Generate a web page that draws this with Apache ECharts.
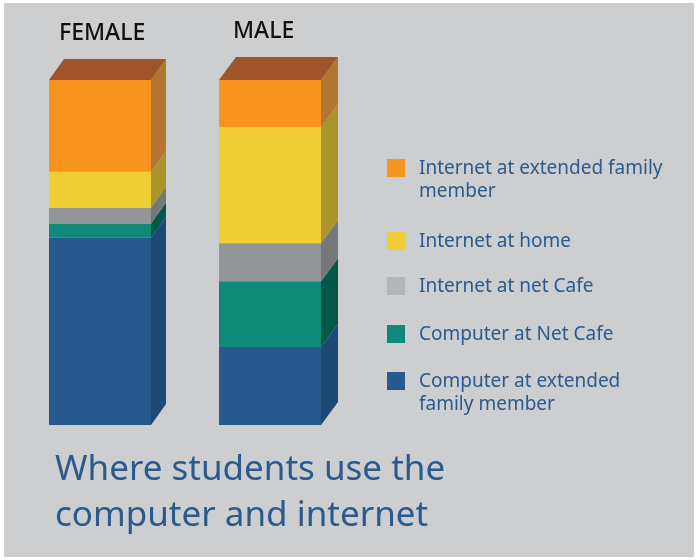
<!DOCTYPE html>
<html>
<head>
<meta charset="utf-8">
<script src="https://cdn.jsdelivr.net/npm/echarts@6/dist/echarts.min.js"></script>
<style>
html,body{margin:0;padding:0;background:#fff;}
#chart{width:696px;height:560px;}
</style>
</head>
<body>
<div id="chart"></div>
<script>
// ---- data ----
var categories = ['FEMALE', 'MALE'];
// stacked bottom -> top, values in percent
var seriesNames = [
  'Computer at extended family member',
  'Computer at Net Cafe',
  'Internet at net Cafe',
  'Internet at home',
  'Internet at extended family member'
];
var compExtFamily = [54.3, 22.6];
var compNetCafe   = [4.1, 19.1];
var netNetCafe    = [4.6, 11.0];
var netHome       = [10.4, 33.7];
var netExtFamily  = [26.6, 13.6];
var legendLabels = [
  'Internet at extended family\nmember',
  'Internet at home',
  'Internet at net Cafe',
  'Computer at Net Cafe',
  'Computer at extended\nfamily member'
];
var titleText = 'Where students use the\ncomputer and internet';

// ---- styles ----
var frontColors = ['#265a8e', '#0f8a78', '#939598', '#f1cd36', '#f7941d'];
var sideColors  = ['#1e4876', '#03584a', '#76777b', '#a99529', '#b27630'];
var legendColors = ['#f7941d', '#f1cd36', '#b4b5b7', '#0f8a78', '#265a8e'];
var topColor = '#a0542a';
var depth = [{dx: 15, dy: 21}, {dx: 17, dy: 23}];
var barWidth = 102;
var textBlue = '#2a5a8e';
var fontFam = '"Noto Sans", sans-serif';

var allValues = [compExtFamily, compNetCafe, netNetCafe, netHome, netExtFamily];
var bases = categories.map(function(){ return 0; });
var series = allValues.map(function(vals, sIdx){
  var data = vals.map(function(v, ci){
    var start = bases[ci];
    bases[ci] += v;
    return [ci, start, start + v];
  });
  var isTop = sIdx === allValues.length - 1;
  return {
    type: 'custom',
    name: seriesNames[sIdx],
    coordinateSystem: 'cartesian2d',
    encode: {x: 0, y: [1, 2]},
    data: data,
    renderItem: function(params, api){
      var ci = api.value(0);
      var pb = api.coord([ci, api.value(1)]);
      var pt = api.coord([ci, api.value(2)]);
      var x0 = pb[0] - barWidth / 2, x1 = pb[0] + barWidth / 2;
      var yb = pb[1], yt = pt[1];
      var d = depth[ci];
      var children = [
        {type: 'rect', shape: {x: x0, y: yt, width: barWidth, height: yb - yt},
         style: {fill: frontColors[sIdx]}},
        {type: 'polygon', shape: {points: [[x1, yb], [x1 + d.dx, yb - d.dy], [x1 + d.dx, yt - d.dy], [x1, yt]]},
         style: {fill: sideColors[sIdx]}}
      ];
      if (isTop) {
        children.push({type: 'polygon', shape: {points: [[x0, yt], [x1, yt], [x1 + d.dx, yt - d.dy], [x0 + d.dx, yt - d.dy]]},
          style: {fill: topColor}});
      }
      return {type: 'group', children: children};
    }
  };
});

var graphics = [
  {type: 'rect', z: -10, shape: {x: 4, y: 3, width: 690, height: 554}, style: {fill: '#cdcecf'}},
  {type: 'text', x: 59, y: 33, style: {text: categories[0], font: '500 23px ' + fontFam, fill: '#111', verticalAlign: 'middle'}},
  {type: 'text', x: 233, y: 31, style: {text: categories[1], font: '500 23px ' + fontFam, fill: '#111', verticalAlign: 'middle'}},
  {type: 'text', x: 55, y: 447, style: {text: titleText, font: '35px ' + fontFam, fill: textBlue, lineHeight: 46, verticalAlign: 'top'}}
];
var legendTops = [159, 232, 277, 325, 372];
legendLabels.forEach(function(lbl, i){
  graphics.push({type: 'rect', shape: {x: 387, y: legendTops[i], width: 18, height: 18}, style: {fill: legendColors[i]}});
  graphics.push({type: 'text', x: 419, y: legendTops[i] - 2, style: {text: lbl, font: '19px ' + fontFam, fill: textBlue, lineHeight: 23, verticalAlign: 'top'}});
});

var chart = echarts.init(document.getElementById('chart'), null, {renderer: 'canvas'});
chart.setOption({
  backgroundColor: '#ffffff',
  animation: false,
  grid: {left: 15, width: 340, top: 80, bottom: 135},
  xAxis: {type: 'category', data: categories, show: false},
  yAxis: {type: 'value', min: 0, max: 100, show: false},
  graphic: graphics,
  series: series
});
</script>
</body>
</html>
